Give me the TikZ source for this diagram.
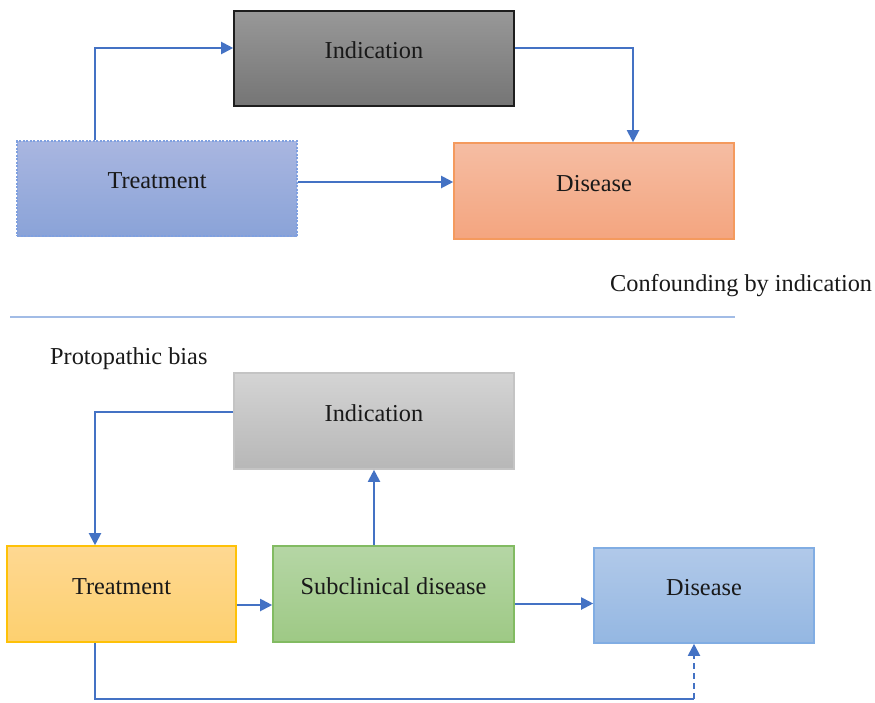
\documentclass[tikz,border=0pt]{standalone}
\usepackage{fontspec}
\setmainfont{Liberation Serif}
\usetikzlibrary{arrows.meta,calc}
\definecolor{arrowblue}{HTML}{4472C4}
\definecolor{sepblue}{HTML}{A2BCE6}
\tikzset{
  boxbase/.style={rectangle, line width=1.6pt, text height=0pt, text depth=0pt,
    font=\fontsize{24.3}{28}\selectfont, text=black!90},
  conn/.style={draw=arrowblue, line width=2pt},
  arr/.style={conn, -{Triangle[length=12pt,width=12pt]}},
  plain/.style={font=\fontsize{24.3}{28}\selectfont, text=black!90, inner sep=0pt}
}
\begin{document}
\begin{tikzpicture}[x=1pt,y=-1pt]
\fill[white] (0,0) rectangle (875,702);
\useasboundingbox (0,0) rectangle (875,702);

% ---------- top panel ----------
\node[boxbase, minimum width=280pt, minimum height=95pt,
  top color={rgb,255:red,152;green,152;blue,152}, bottom color={rgb,255:red,117;green,117;blue,117},
  draw={rgb,255:red,30;green,30;blue,30}] (ind1) at (374,58.5) {Indication};
\node[boxbase, minimum width=280pt, minimum height=95pt,
  top color={rgb,255:red,169;green,182;blue,224}, bottom color={rgb,255:red,138;green,163;blue,216},
  draw={rgb,255:red,127;green,160;blue,224}, line width=1.3pt, dash pattern=on 2pt off 1.5pt] (t1) at (157,188.5) {Treatment};
\node[boxbase, minimum width=280pt, minimum height=96pt,
  top color={rgb,255:red,245;green,189;blue,163}, bottom color={rgb,255:red,244;green,165;blue,127},
  draw={rgb,255:red,244;green,154;blue,94}] (d1) at (594,191) {Disease};

\draw[arr] ([xshift=-62pt]t1.north) |- ([yshift=10.5pt]ind1.west);
\draw[arr] ([yshift=6.5pt]t1.east) -- ([yshift=6.5pt]t1.east -| d1.west);
\draw[arr] ([yshift=10.5pt]ind1.east) -| ([xshift=39pt]d1.north);

\node[plain, anchor=base west] (lab1) at (610,291) {Confounding by indication};

% separator
\coordinate (sepL) at (10,317);
\coordinate (sepR) at (735,317);
\draw[sepblue, line width=2.2pt] (sepL) -- (sepR);

% ---------- bottom panel ----------
\node[plain, anchor=base west] (lab2) at (50,364) {Protopathic bias};

\node[boxbase, minimum width=280pt, minimum height=96pt,
  top color={rgb,255:red,212;green,212;blue,212}, bottom color={rgb,255:red,183;green,183;blue,183},
  draw={rgb,255:red,196;green,196;blue,196}] (ind2) at (374,421) {Indication};
\node[boxbase, minimum width=229pt, minimum height=96pt,
  top color={rgb,255:red,254;green,216;blue,146}, bottom color={rgb,255:red,253;green,208;blue,111},
  draw={rgb,255:red,254;green,193;blue,7}] (t2) at (121.5,594) {Treatment};
\node[boxbase, minimum width=241pt, minimum height=96pt,
  top color={rgb,255:red,181;green,214;blue,165}, bottom color={rgb,255:red,158;green,201;blue,133},
  draw={rgb,255:red,130;green,187;blue,98}] (sub) at (393.5,594) {Subclinical disease};
\node[boxbase, minimum width=220pt, minimum height=95pt,
  top color={rgb,255:red,177;green,201;blue,233}, bottom color={rgb,255:red,148;green,183;blue,226},
  draw={rgb,255:red,129;green,173;blue,227}] (dis2) at (704,595.5) {Disease};

\draw[arr] ([yshift=9pt]ind2.west) -| ([xshift=-26.5pt]t2.north);
\draw[arr] ([yshift=-11pt]t2.east) -- ([yshift=-11pt]t2.east -| sub.west);
\draw[arr] ([xshift=-19.5pt]sub.north) -- ([xshift=-19.5pt]sub.north |- ind2.south);
\draw[arr] ([yshift=-9.5pt]sub.east) -- ([yshift=-9.5pt]sub.east -| dis2.west);

\coordinate (corner) at ([xshift=-10pt,yshift=-55pt]dis2.south);
\draw[conn] ([xshift=-26.5pt]t2.south) |- (corner);
\draw[arr, dash pattern=on 6pt off 4pt] (corner) -- ([xshift=-10pt]dis2.south);
\end{tikzpicture}
\end{document}
